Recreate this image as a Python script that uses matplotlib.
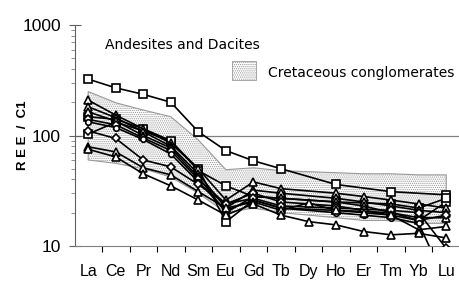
import numpy as np
import matplotlib
matplotlib.use('Agg')
import matplotlib.pyplot as plt
from matplotlib.patches import Rectangle

nan = np.nan

elements = ['La', 'Ce', 'Pr', 'Nd', 'Sm', 'Eu', 'Gd', 'Tb', 'Dy', 'Ho', 'Er', 'Tm', 'Yb', 'Lu']

# Cretaceous conglomerates field (upper / lower envelope)
band_upper = [250, 198, 170, 148, 91, 49, 51, 48, 47, 46, 45, 45, 44, 44]
band_lower = [60, 56, 50, 42, 30, 20, 22, 20, 19, 18, 17, 17, 16, 16]

# Andesites and Dacites samples (chondrite normalised)
sq_1 = [324, 270, 236, 200, 108, 73, 59, 50, nan, 36, nan, 31, nan, 29]
sq_2 = [103, 132, 110, 88, 50, 16.5, 26, 22, nan, 21, nan, 20, 17, 25]
sq_3 = [148, 140, 115, 90, 48, 35, 28, 27, nan, 25, nan, 24, 22, 27]
tri_1 = [209, 153, 115, 85, 50, 26, 38, 33, nan, 30, 28, 26, 24, 22]
tri_2 = [182, 145, 108, 80, 45, 22, 32, 30, nan, 27, 25, 23, 21, 20]
tri_3 = [164, 135, 100, 77, 42, 20, 28, 27, nan, 25, 23, 20, 18, 18]
dia_1 = [140, 125, 95, 73, 40, 24, 30, 25, nan, 23, 21, 19, 17, 19]
dia_2 = [133, 118, 92, 68, 38, 21, 26, 22, nan, 20, 19, 18, 16, 4.6]
dia_3 = [110, 94, 60, 52, 36, 24, 27, 23, nan, 22, nan, 21, 20, 9.5]
tri_4 = [79, 71, 51, 44, 31, 22, 25, 21, 24.5, 21, 20, 19, 14, 15]
tri_5 = [75, 64, 45, 35, 26, 19, 24, 19, 16.6, 15.5, 13.5, 12.6, 13, 11.8]

series = [(sq_1, 's'), (sq_2, 's'), (sq_3, 's'), (tri_1, '^'), (tri_2, '^'),
          (tri_3, '^'), (dia_1, 'D'), (dia_2, 'o'), (dia_3, 'D'),
          (tri_4, '^'), (tri_5, '^')]

plt.rcParams['hatch.linewidth'] = 0.6
plt.rcParams['hatch.color'] = '#7a7a7a'
plt.rcParams['font.family'] = ['Liberation Sans', 'DejaVu Sans']

fig = plt.figure(figsize=(4.6, 2.82), dpi=100)
ax = fig.add_axes([0.163, 0.128, 0.837, 0.783])

x = np.arange(len(elements))
ax.fill_between(x, band_lower, band_upper, facecolor='white', edgecolor='#999999',
                hatch='........', linewidth=0.8, zorder=1)

for vals, m in series:
    v = np.array(vals, dtype=float)
    ok = ~np.isnan(v)
    ms = 5.5 if m == 's' else (5.5 if m == '^' else 4)
    ax.plot(x[ok], v[ok], color='black', lw=1.2, marker=m, ms=ms,
            mfc='white', mec='black', mew=1.2, zorder=3)

ax.set_yscale('log')
ax.set_ylim(10, 1000)
ax.set_xlim(-0.48, 13.5)
ax.axhline(100, color='#808080', lw=0.9, zorder=0)

for s in ['top', 'right']:
    ax.spines[s].set_visible(False)
ax.spines['bottom'].set_color('#808080')
ax.spines['left'].set_color('#606060')
ax.spines['left'].set_linewidth(0.8)

ax.set_xticks(x[:-1] + 0.5)
ax.set_xticklabels([])
ax.set_xticks(x, minor=True)
ax.set_xticklabels(elements, minor=True, fontsize=11.5)
ax.tick_params(axis='x', which='major', length=4, width=0.8, color='black', direction='out')
ax.tick_params(axis='x', which='minor', length=0, pad=13)

ax.set_yticks([10, 100, 1000])
ax.set_yticklabels(['10', '100', '1000'], fontsize=12.5)
ax.tick_params(axis='y', which='major', length=8, width=0.8, color='#606060',
               direction='inout', pad=6)
ax.tick_params(axis='y', which='minor', length=3, width=0.6, color='#808080', direction='out')
ax.yaxis.set_minor_formatter(matplotlib.ticker.NullFormatter())

fig.text(0.05, 0.52, 'R E E  /  C1', fontsize=9.5, fontweight='bold', rotation=90,
         ha='center', va='center')

fig.text(0.228, 0.842, 'Andesites and Dacites', fontsize=10, va='center', ha='left',
         family='DejaVu Sans')
fig.patches.append(Rectangle((0.505, 0.718), 0.052, 0.066, transform=fig.transFigure,
                             facecolor='white', edgecolor='#999999', hatch='........',
                             linewidth=0.6))
fig.text(0.583, 0.742, 'Cretaceous conglomerates', fontsize=10, va='center', ha='left',
         family='DejaVu Sans')

fig.savefig('out.png', dpi=100)
